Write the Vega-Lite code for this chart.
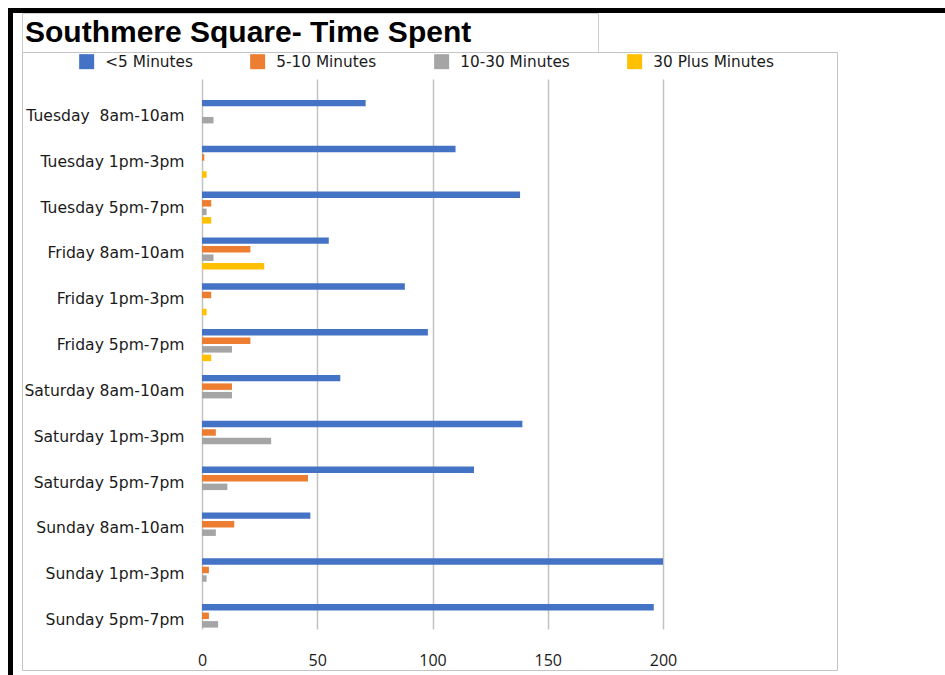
{
  "$schema": "https://vega.github.io/schema/vega-lite/v6.json",
  "padding": {"left": 8, "top": 8, "right": 0, "bottom": 0},
  "background": "white",
  "spacing": 0,
  "bounds": "flush",
  "config": {
    "view": {"stroke": null},
    "font": "DejaVu Sans"
  },
  "vconcat": [
    {
      "width": 937,
      "height": 5,
      "view": {"fill": "black", "stroke": null},
      "data": {"values": []},
      "mark": "rect"
    },
    {
      "spacing": 9,
      "bounds": "flush",
      "hconcat": [
        {
          "width": 5,
          "height": 662,
          "view": {"fill": "black", "stroke": null},
          "data": {"values": []},
          "mark": "rect"
        },
        {
          "spacing": 0,
          "bounds": "flush",
          "vconcat": [
            {
              "width": 576,
              "height": 39,
              "view": {"stroke": "#cfcfcf", "strokeWidth": 1},
              "title": {
                "text": "Southmere Square- Time Spent",
                "anchor": "start",
                "frame": "group",
                "orient": "bottom",
                "offset": -10,
                "baseline": "alphabetic",
                "dx": 3,
                "font": "Liberation Sans",
                "fontSize": 30,
                "fontWeight": "bold",
                "color": "#000000"
              },
              "data": {"values": []},
              "mark": "rect"
            },
            {
              "width": 815,
              "height": 618,
              "view": {"stroke": "#c4c4c4", "strokeWidth": 1},
              "data": {
                "values": [
                  {"slot": "Tuesday  8am-10am", "duration": "<5 Minutes", "visitors": 71},
                  {"slot": "Tuesday  8am-10am", "duration": "5-10 Minutes", "visitors": 0},
                  {"slot": "Tuesday  8am-10am", "duration": "10-30 Minutes", "visitors": 5},
                  {"slot": "Tuesday  8am-10am", "duration": "30 Plus Minutes", "visitors": 0},
                  {"slot": "Tuesday 1pm-3pm", "duration": "<5 Minutes", "visitors": 110},
                  {"slot": "Tuesday 1pm-3pm", "duration": "5-10 Minutes", "visitors": 1},
                  {"slot": "Tuesday 1pm-3pm", "duration": "10-30 Minutes", "visitors": 0},
                  {"slot": "Tuesday 1pm-3pm", "duration": "30 Plus Minutes", "visitors": 2},
                  {"slot": "Tuesday 5pm-7pm", "duration": "<5 Minutes", "visitors": 138},
                  {"slot": "Tuesday 5pm-7pm", "duration": "5-10 Minutes", "visitors": 4},
                  {"slot": "Tuesday 5pm-7pm", "duration": "10-30 Minutes", "visitors": 2},
                  {"slot": "Tuesday 5pm-7pm", "duration": "30 Plus Minutes", "visitors": 4},
                  {"slot": "Friday 8am-10am", "duration": "<5 Minutes", "visitors": 55},
                  {"slot": "Friday 8am-10am", "duration": "5-10 Minutes", "visitors": 21},
                  {"slot": "Friday 8am-10am", "duration": "10-30 Minutes", "visitors": 5},
                  {"slot": "Friday 8am-10am", "duration": "30 Plus Minutes", "visitors": 27},
                  {"slot": "Friday 1pm-3pm", "duration": "<5 Minutes", "visitors": 88},
                  {"slot": "Friday 1pm-3pm", "duration": "5-10 Minutes", "visitors": 4},
                  {"slot": "Friday 1pm-3pm", "duration": "10-30 Minutes", "visitors": 0},
                  {"slot": "Friday 1pm-3pm", "duration": "30 Plus Minutes", "visitors": 2},
                  {"slot": "Friday 5pm-7pm", "duration": "<5 Minutes", "visitors": 98},
                  {"slot": "Friday 5pm-7pm", "duration": "5-10 Minutes", "visitors": 21},
                  {"slot": "Friday 5pm-7pm", "duration": "10-30 Minutes", "visitors": 13},
                  {"slot": "Friday 5pm-7pm", "duration": "30 Plus Minutes", "visitors": 4},
                  {"slot": "Saturday 8am-10am", "duration": "<5 Minutes", "visitors": 60},
                  {"slot": "Saturday 8am-10am", "duration": "5-10 Minutes", "visitors": 13},
                  {"slot": "Saturday 8am-10am", "duration": "10-30 Minutes", "visitors": 13},
                  {"slot": "Saturday 8am-10am", "duration": "30 Plus Minutes", "visitors": 0},
                  {"slot": "Saturday 1pm-3pm", "duration": "<5 Minutes", "visitors": 139},
                  {"slot": "Saturday 1pm-3pm", "duration": "5-10 Minutes", "visitors": 6},
                  {"slot": "Saturday 1pm-3pm", "duration": "10-30 Minutes", "visitors": 30},
                  {"slot": "Saturday 1pm-3pm", "duration": "30 Plus Minutes", "visitors": 0},
                  {"slot": "Saturday 5pm-7pm", "duration": "<5 Minutes", "visitors": 118},
                  {"slot": "Saturday 5pm-7pm", "duration": "5-10 Minutes", "visitors": 46},
                  {"slot": "Saturday 5pm-7pm", "duration": "10-30 Minutes", "visitors": 11},
                  {"slot": "Saturday 5pm-7pm", "duration": "30 Plus Minutes", "visitors": 0},
                  {"slot": "Sunday 8am-10am", "duration": "<5 Minutes", "visitors": 47},
                  {"slot": "Sunday 8am-10am", "duration": "5-10 Minutes", "visitors": 14},
                  {"slot": "Sunday 8am-10am", "duration": "10-30 Minutes", "visitors": 6},
                  {"slot": "Sunday 8am-10am", "duration": "30 Plus Minutes", "visitors": 0},
                  {"slot": "Sunday 1pm-3pm", "duration": "<5 Minutes", "visitors": 200},
                  {"slot": "Sunday 1pm-3pm", "duration": "5-10 Minutes", "visitors": 3},
                  {"slot": "Sunday 1pm-3pm", "duration": "10-30 Minutes", "visitors": 2},
                  {"slot": "Sunday 1pm-3pm", "duration": "30 Plus Minutes", "visitors": 0},
                  {"slot": "Sunday 5pm-7pm", "duration": "<5 Minutes", "visitors": 196},
                  {"slot": "Sunday 5pm-7pm", "duration": "5-10 Minutes", "visitors": 3},
                  {"slot": "Sunday 5pm-7pm", "duration": "10-30 Minutes", "visitors": 7},
                  {"slot": "Sunday 5pm-7pm", "duration": "30 Plus Minutes", "visitors": 0}
                ]
              },
              "mark": {"type": "bar"},
              "encoding": {
                "y": {
                  "field": "slot",
                  "type": "nominal",
                  "sort": [
                    "Tuesday  8am-10am", "Tuesday 1pm-3pm", "Tuesday 5pm-7pm",
                    "Friday 8am-10am", "Friday 1pm-3pm", "Friday 5pm-7pm",
                    "Saturday 8am-10am", "Saturday 1pm-3pm", "Saturday 5pm-7pm",
                    "Sunday 8am-10am", "Sunday 1pm-3pm", "Sunday 5pm-7pm"
                  ],
                  "scale": {"range": [41, 591], "paddingInner": 0.3, "paddingOuter": 0.15},
                  "axis": {
                    "title": null,
                    "orient": "left",
                    "offset": -180,
                    "domain": false,
                    "ticks": false,
                    "grid": false,
                    "labelExpr": "replace(datum.label, '  ', ' \u00a0')",
                    "labelFont": "DejaVu Sans",
                    "labelFontSize": 15.6,
                    "labelColor": "#1a1a1a",
                    "labelPadding": 18
                  }
                },
                "yOffset": {
                  "field": "duration",
                  "type": "nominal",
                  "sort": ["<5 Minutes", "5-10 Minutes", "10-30 Minutes", "30 Plus Minutes"],
                  "scale": {"paddingInner": 0.24, "paddingOuter": 0}
                },
                "x": {
                  "field": "visitors",
                  "type": "quantitative",
                  "scale": {"domain": [0, 200], "range": [180, 641], "nice": false, "zero": true},
                  "axis": {
                    "title": null,
                    "orient": "bottom",
                    "offset": -27,
                    "values": [0, 50, 100, 150, 200],
                    "domain": false,
                    "ticks": false,
                    "grid": true,
                    "gridColor": "#c2c2c2",
                    "gridWidth": 1.5,
                    "labelFlush": false,
                    "labelFont": "Open Sans",
                    "labelFontSize": 16,
                    "labelColor": "#1a1a1a",
                    "labelPadding": 9
                  }
                },
                "color": {
                  "field": "duration",
                  "type": "nominal",
                  "sort": ["<5 Minutes", "5-10 Minutes", "10-30 Minutes", "30 Plus Minutes"],
                  "scale": {
                    "domain": ["<5 Minutes", "5-10 Minutes", "10-30 Minutes", "30 Plus Minutes"],
                    "range": ["#4472c4", "#ed7d31", "#a5a5a5", "#ffc000"]
                  },
                  "legend": {
                    "title": null,
                    "orient": "none",
                    "legendX": 71,
                    "legendY": 46,
                    "direction": "horizontal",
                    "symbolType": "square",
                    "symbolSize": 225,
                    "symbolStrokeWidth": 0,
                    "labelFont": "DejaVu Sans",
                    "labelFontSize": 15.3,
                    "labelColor": "#1a1a1a",
                    "labelOffset": 11,
                    "columnPadding": 57
                  }
                }
              }
            }
          ]
        }
      ]
    }
  ]
}
